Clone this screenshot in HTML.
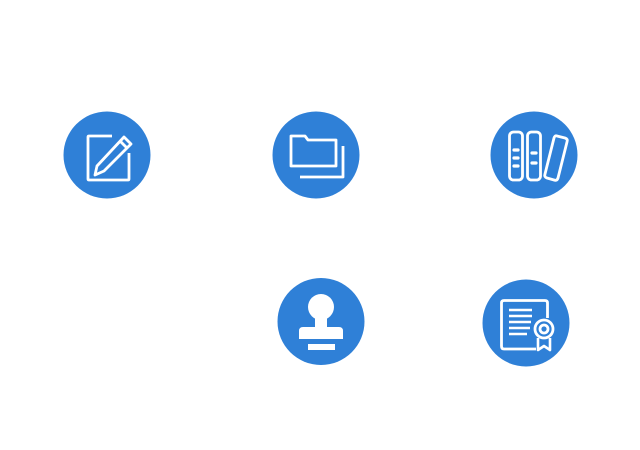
<!DOCTYPE html>
<html><head><meta charset="utf-8"><style>
html,body{margin:0;padding:0;background:#fff;width:640px;height:450px;overflow:hidden}
svg{display:block}
</style></head><body>
<svg width="640" height="450" viewBox="0 0 640 450" xmlns="http://www.w3.org/2000/svg">
<g fill="#2f80d7">
<circle cx="107" cy="155" r="43.5"/>
<circle cx="316" cy="155" r="43.5"/>
<circle cx="534" cy="155" r="43.5"/>
<circle cx="321" cy="321.5" r="43.5"/>
<circle cx="526" cy="323" r="43.5"/>
</g>
<g fill="none" stroke="#fff" stroke-width="2.8" stroke-linejoin="round">
<!-- edit icon -->
<path d="M112 136 H89 Q88 136 88 137 V179 Q88 180 89 180 H128 Q129 180 129 179 V153"/>
<path d="M124 137 L131 144 L104 171 L95 175 L97 166 Z"/>
<line x1="120" y1="141" x2="127" y2="148"/>
<!-- folder -->
<path d="M291 136 H305 L308 140 H336 V166 H291 Z"/>
<path d="M343 146 V177 H300"/>
<!-- books -->
<rect x="509.5" y="132" width="13" height="48" rx="4"/>
<rect x="527.5" y="132" width="13" height="48" rx="4"/>
<path d="M557 136 L565 138 Q568 139 567 142 L558 178 Q557 181 554 180 L547 178 Q544 177 545 174 L554 138 Q555 135 557 136 Z"/>
<!-- certificate -->
<path d="M536 349 H504 Q501.5 349 501.5 346 V303 Q501.5 300.5 504 300.5 H545 Q547.5 300.5 547.5 303 V318"/>
<circle cx="544" cy="329" r="9"/>
<circle cx="544" cy="329" r="4"/>
</g>
<g stroke="#fff" stroke-width="3.2" stroke-linecap="round">
<line x1="514" y1="150" x2="518" y2="150"/>
<line x1="514" y1="158" x2="518" y2="158"/>
<line x1="514" y1="166" x2="518" y2="166"/>
<line x1="532" y1="153" x2="536" y2="153"/>
<line x1="532" y1="163" x2="536" y2="163"/>
</g>
<g stroke="#fff" stroke-width="2.6">
<line x1="509" y1="310" x2="532" y2="310"/>
<line x1="509" y1="316" x2="532" y2="316"/>
<line x1="509" y1="322" x2="531" y2="322"/>
<line x1="509" y1="328" x2="530" y2="328"/>
<line x1="509" y1="334" x2="527" y2="334"/>
</g>
<path d="M538 338 V350 L544 346 L550 350 V338" fill="none" stroke="#fff" stroke-width="2.6" stroke-linejoin="round"/>
<!-- stamp -->
<g fill="#fff">
<circle cx="321" cy="307" r="13"/>
<rect x="315" y="315" width="12" height="14"/>
<path d="M303 327 H339 Q343 327 343 331 V339 H299 V331 Q299 327 303 327 Z"/>
<rect x="308" y="344" width="27" height="6"/>
</g>
</svg>
</body></html>
